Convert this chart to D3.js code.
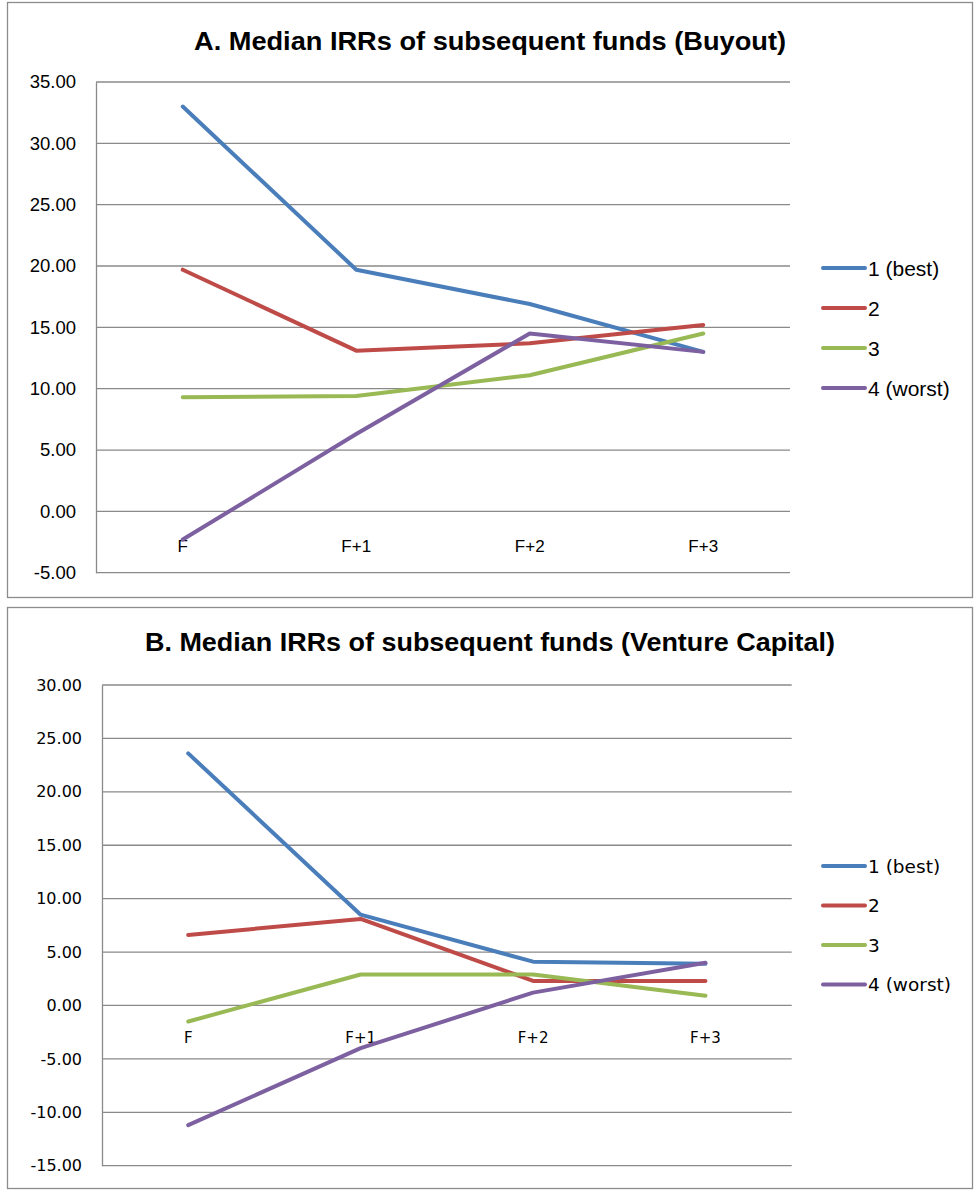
<!DOCTYPE html>
<html>
<head>
<meta charset="utf-8">
<script src="https://cdn.jsdelivr.net/npm/d3@7"></script>
<style>
  body { margin: 0; background: #fff; }
  svg text { fill: #000; }
</style>
</head>
<body>
<script>
// categories and series names
const periods = ['F', 'F+1', 'F+2', 'F+3'];
const seriesNames = ['1 (best)', '2', '3', '4 (worst)'];
const colors = ['#4a7ebb', '#be4b48', '#98b954', '#7d60a0'];

// A. Buyout
const buyoutBest = [33.0, 19.7, 16.9, 13.0];
const buyout2 = [19.7, 13.1, 13.7, 15.2];
const buyout3 = [9.3, 9.4, 11.1, 14.5];
const buyoutWorst = [-2.3, 6.3, 14.5, 13.0];
const buyoutTicks = [-5, 0, 5, 10, 15, 20, 25, 30, 35];

// B. Venture Capital
const vcBest = [23.6, 8.5, 4.1, 3.9];
const vc2 = [6.6, 8.1, 2.3, 2.3];
const vc3 = [-1.5, 2.9, 2.9, 0.9];
const vcWorst = [-11.2, -4.0, 1.2, 4.0];
const vcTicks = [-15, -10, -5, 0, 5, 10, 15, 20, 25, 30];

const W = 974, H = 1190;
const svg = d3.select('body').append('svg')
  .attr('width', W).attr('height', H);

// plain hyphen for negatives, like the spreadsheet
const fmt = d3.formatLocale({ decimal: '.', thousands: ',', grouping: [3],
                              currency: ['', ''], minus: '-' }).format('.2f');

const drawPanel = (cfg) => {
  const g = svg.append('g');

  g.append('rect')
    .attr('x', cfg.frame[0] + 0.5).attr('y', cfg.frame[1] + 0.5)
    .attr('width', cfg.frame[2] - cfg.frame[0]).attr('height', cfg.frame[3] - cfg.frame[1])
    .attr('fill', '#fff').attr('stroke', '#8c8c8c').attr('stroke-width', 1.3);

  g.append('text')
    .attr('x', 490).attr('y', cfg.titleY)
    .attr('text-anchor', 'middle')
    .attr('font-family', 'Liberation Sans, Arial, sans-serif')
    .attr('font-weight', 'bold')
    .attr('font-size', cfg.titleSize)
    .attr('textLength', cfg.titleWidth)
    .attr('lengthAdjust', 'spacingAndGlyphs')
    .text(cfg.title);

  const x = d3.scaleBand().domain(periods).range([cfg.left, cfg.right]);
  const y = d3.scaleLinear().domain(d3.extent(cfg.ticks)).range([cfg.bottom, cfg.top]);

  // gridlines
  g.append('g').selectAll('line').data(cfg.ticks).join('line')
    .attr('x1', cfg.left).attr('x2', cfg.right)
    .attr('y1', (d) => y(d)).attr('y2', (d) => y(d))
    .attr('stroke', '#8a8a8a').attr('stroke-width', 1.3);

  // value axis
  const yAxis = g.append('g')
    .attr('transform', `translate(${cfg.left},0)`)
    .call(d3.axisLeft(y).tickValues(cfg.ticks).tickFormat(fmt).tickSize(0).tickPadding(20));
  yAxis.select('.domain').attr('stroke', '#8a8a8a').attr('stroke-width', 1.3);
  yAxis.selectAll('text')
    .attr('font-family', cfg.tickFont)
    .attr('font-size', cfg.tickSize)
    .attr('fill', '#000');

  // category labels sit under the zero line
  g.append('g').selectAll('text').data(periods).join('text')
    .attr('x', (d) => x(d) + x.bandwidth() / 2)
    .attr('y', y(0) + cfg.catOffset)
    .attr('text-anchor', 'middle')
    .attr('font-family', cfg.tickFont)
    .attr('font-size', cfg.catSize)
    .text((d) => d);

  const line = d3.line()
    .x((d, i) => x(periods[i]) + x.bandwidth() / 2)
    .y((d) => y(d));

  g.append('g').selectAll('path').data(cfg.series).join('path')
    .attr('d', (d) => line(d))
    .attr('fill', 'none')
    .attr('stroke', (d, i) => colors[i])
    .attr('stroke-width', 4)
    .attr('stroke-linejoin', 'round')
    .attr('stroke-linecap', 'round');

  // legend
  const lg = g.append('g').selectAll('g').data(seriesNames).join('g')
    .attr('transform', (d, i) => `translate(823,${cfg.legendY + i * cfg.legendStep})`);
  lg.append('line')
    .attr('x1', 0).attr('x2', 42)
    .attr('stroke', (d, i) => colors[i])
    .attr('stroke-width', 4)
    .attr('stroke-linecap', 'round');
  lg.append('text')
    .attr('x', 45).attr('dy', '0.36em')
    .attr('font-family', cfg.tickFont)
    .attr('font-size', cfg.legendSize)
    .text((d) => d);
};

drawPanel({
  title: 'A. Median IRRs  of subsequent funds (Buyout)',
  titleY: 50, titleSize: 26, titleWidth: 592,
  frame: [7, 2, 972, 597],
  left: 96, right: 790, top: 82, bottom: 572.7,
  ticks: buyoutTicks,
  series: [buyoutBest, buyout2, buyout3, buyoutWorst],
  tickFont: 'Liberation Sans, Arial, sans-serif', tickSize: 18.5,
  catSize: 17, catOffset: 41,
  legendY: 268, legendStep: 40, legendSize: 21
});

drawPanel({
  title: 'B. Median IRRs  of subsequent funds (Venture Capital)',
  titleY: 651, titleSize: 26, titleWidth: 690,
  frame: [7, 607, 972, 1188],
  left: 102, right: 791.7, top: 685, bottom: 1165.7,
  ticks: vcTicks,
  series: [vcBest, vc2, vc3, vcWorst],
  tickFont: 'DejaVu Sans, Verdana, sans-serif', tickSize: 16,
  catSize: 15, catOffset: 38,
  legendY: 866, legendStep: 39.5, legendSize: 18.5
});
</script>
</body>
</html>
